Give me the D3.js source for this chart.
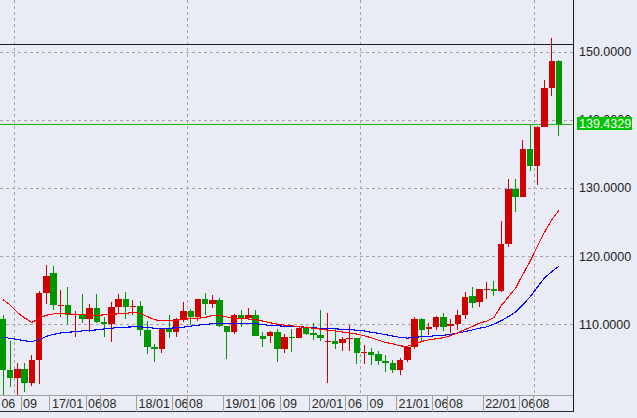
<!DOCTYPE html>
<html><head><meta charset="utf-8">
<script src="https://cdn.jsdelivr.net/npm/d3@7"></script>
<style>
html,body{margin:0;padding:0;background:#E9ECF4;overflow:hidden;}
svg{display:block;}
text{font-family:"Liberation Sans",Arial,sans-serif;font-size:12.5px;}
</style></head><body>
<svg id="chart" width="637" height="418"></svg>
<script>
// ---- data (USD/JPY monthly) ----
const months = [
"2016-06","2016-07","2016-08","2016-09","2016-10","2016-11","2016-12",
"2017-01","2017-02","2017-03","2017-04","2017-05","2017-06","2017-07","2017-08","2017-09","2017-10","2017-11","2017-12",
"2018-01","2018-02","2018-03","2018-04","2018-05","2018-06","2018-07","2018-08","2018-09","2018-10","2018-11","2018-12",
"2019-01","2019-02","2019-03","2019-04","2019-05","2019-06","2019-07","2019-08","2019-09","2019-10","2019-11","2019-12",
"2020-01","2020-02","2020-03","2020-04","2020-05","2020-06","2020-07","2020-08","2020-09","2020-10","2020-11","2020-12",
"2021-01","2021-02","2021-03","2021-04","2021-05","2021-06","2021-07","2021-08","2021-09","2021-10","2021-11","2021-12",
"2022-01","2022-02","2022-03","2022-04","2022-05","2022-06","2022-07","2022-08","2022-09","2022-10","2022-11"];
const open = [
110.7,103.2,102.1,103.4,101.3,104.8,114.5,
117.5,112.75,112.8,111.35,111.5,110.8,112.4,110.3,110.0,112.5,113.7,112.5,
112.7,109.2,106.7,106.3,109.3,108.8,110.7,111.9,111.0,113.7,112.9,113.5,
109.7,108.9,111.4,110.9,111.4,108.3,108.3,108.8,106.3,108.1,108.0,109.5,
108.7,108.4,107.45,107.5,107.2,107.8,107.9,105.8,105.9,105.6,104.6,104.25,
103.2,104.7,106.6,110.7,109.3,109.6,111.1,109.7,110.0,111.3,114.1,113.2,
115.05,115.1,114.9,121.7,129.9,128.7,135.7,133.2,138.95,144.7,148.7];
const high = [
111.4,107.5,104.3,104.3,105.5,114.8,118.7,
118.5,115.0,115.4,111.9,114.4,112.9,114.4,111.1,113.3,114.4,114.7,113.6,
113.4,110.5,107.1,109.5,111.4,110.9,113.2,112.2,113.7,114.5,114.3,113.8,
109.7,111.5,112.1,112.4,112.0,108.8,109.0,109.3,108.5,109.3,109.7,109.7,
110.1,112.1,111.7,109.4,108.1,109.8,107.9,107.0,106.55,106.1,105.5,104.7,
105.0,106.7,111.1,110.9,110.2,111.2,111.6,110.75,112.1,114.75,115.5,115.2,
116.2,116.3,125.1,131.3,131.35,137.0,139.3,139.1,145.8,152.0,148.8];
const low = [
99.0,100.7,99.5,100.1,100.9,101.2,112.9,
112.0,111.1,110.0,108.15,110.2,108.9,110.2,108.1,107.4,111.7,110.8,111.3,
108.3,105.6,104.5,105.7,108.0,108.1,110.3,109.8,110.4,111.3,112.3,109.6,
104.9,108.5,109.6,110.8,108.2,106.7,107.2,104.5,105.7,105.9,107.9,108.4,
107.7,107.5,101.3,106.4,106.0,106.1,104.2,104.2,104.0,104.0,103.0,102.8,
102.5,104.5,106.4,107.4,108.4,109.2,109.0,108.75,109.1,110.8,112.4,112.5,
113.7,114.15,114.7,121.3,126.4,128.6,132.5,130.4,138.9,143.5,137.6];
const close = [
103.2,102.1,103.4,101.3,104.8,114.5,117.0,
112.8,112.8,111.4,111.5,110.8,112.4,110.25,110.0,112.5,113.7,112.5,112.7,
109.2,106.7,106.3,109.3,108.8,110.7,111.9,111.0,113.7,112.9,113.5,109.7,
108.9,111.4,110.9,111.4,108.3,107.8,108.85,106.3,108.1,108.0,109.5,108.6,
108.4,107.9,107.55,107.1,107.8,107.9,105.8,105.9,105.4,104.6,104.3,103.2,
104.7,106.6,110.7,109.2,109.6,111.1,109.6,110.0,111.3,114.0,113.1,115.1,
115.1,114.9,121.7,129.8,128.7,135.7,133.2,138.95,144.7,148.7,139.4329];
const maRed = [
113.6,112.8,111.7,110.9,110.25,110.85,111.3,
111.5,111.55,111.5,111.45,111.4,111.35,111.3,111.35,111.45,111.5,111.6,111.7,
111.6,111.1,110.65,110.5,110.5,110.55,110.7,110.8,110.85,111.0,111.25,111.3,
111.05,110.9,110.85,110.75,110.65,110.45,110.2,110.0,109.85,109.75,109.65,109.5,
109.4,109.25,109.1,109.0,108.85,108.7,108.55,108.3,108.0,107.65,107.3,107.1,
106.8,106.75,107.05,107.45,107.7,107.85,108.0,108.3,108.75,109.2,109.65,110.15,
110.45,110.95,112.7,114.0,115.3,117.3,119.2,121.4,123.5,125.3,126.7];
const maBlue = [
108.1,107.9,107.75,107.55,107.45,107.7,108.2,
108.5,108.7,108.8,108.9,109.0,109.1,109.15,109.3,109.4,109.5,109.55,109.6,
109.6,109.5,109.4,109.4,109.4,109.45,109.55,109.7,109.85,109.95,110.05,110.1,
110.1,110.1,110.1,110.1,110.05,109.95,109.8,109.75,109.7,109.65,109.6,109.55,
109.45,109.4,109.35,109.3,109.25,109.2,109.1,109.0,108.8,108.65,108.45,108.25,
108.05,107.95,108.05,108.15,108.2,108.3,108.35,108.5,108.7,108.9,109.15,109.4,
109.6,110.0,110.5,111.1,111.8,112.85,114.0,115.4,116.8,117.7,118.5];
const yTicks = [110,120,130,140,150];
const xTickMonths = ["2016-06","2016-09","2017-01","2017-06","2017-08","2018-01","2018-06","2018-08",
"2019-01","2019-06","2019-09","2020-01","2020-06","2020-09","2021-01","2021-06","2021-08","2022-01","2022-06","2022-08"];
const xTickLabels = ["06","09","17/01","06","08","18/01","06","08","19/01","06","09","20/01","06","09","21/01","06","08","22/01","06","08"];
const gridMonths = ["2016-08","2018-08","2020-08","2022-08"];
const lastPrice = 139.4329;
const markLevel = 151.1;

// ---- layout ----
const W = 637, H = 418;
const plotR = 573, plotB = 395.7, axisB = 411.5;
const svg = d3.select("#chart");
svg.append("rect").attr("width",W).attr("height",H).attr("fill","#E9ECF4");

const step = 7.22;
const x = d3.scaleBand().domain(months).range([-0.61, -0.61 + step*months.length]).padding(0);
const bw = x.bandwidth();
const cx = m => x(m) + bw/2;
const y = d3.scaleLinear().domain([99.49, 157.59]).range([plotB, 0]);
const px = v => Math.round(v) + 0.5;

const defs = svg.append("defs");
defs.append("clipPath").attr("id","plotclip").append("rect")
  .attr("x",0).attr("y",0).attr("width",plotR).attr("height",plotB);

const grid = svg.append("g").attr("stroke","#A4A4A4").attr("stroke-dasharray","3,3")
  .attr("shape-rendering","crispEdges");
grid.selectAll("line.h").data(yTicks).join("line").attr("class","h")
  .attr("x1",0).attr("x2",plotR).attr("y1",d=>px(y(d))).attr("y2",d=>px(y(d)));
grid.selectAll("line.v").data(gridMonths).join("line").attr("class","v")
  .attr("x1",d=>px(x(d))).attr("x2",d=>px(x(d))).attr("y1",0).attr("y2",plotB);

// reference lines
svg.append("line").attr("x1",0).attr("x2",plotR).attr("y1",px(y(markLevel))).attr("y2",px(y(markLevel)))
  .attr("stroke","#1a1a1a").attr("shape-rendering","crispEdges");
svg.append("line").attr("x1",0).attr("x2",plotR-1).attr("y1",px(y(lastPrice))).attr("y2",px(y(lastPrice)))
  .attr("stroke","#22B022").attr("shape-rendering","crispEdges");

// candles
const data = months.map((m,i)=>({m, o:open[i], h:high[i], l:low[i], c:close[i]}));
const upC = "#D00000", dnC = "#009600";
const cg = svg.append("g").attr("clip-path","url(#plotclip)").attr("shape-rendering","crispEdges");
cg.selectAll("line.wick").data(data).join("line").attr("class","wick")
  .attr("x1",d=>Math.floor(cx(d.m))+0.5).attr("x2",d=>Math.floor(cx(d.m))+0.5)
  .attr("y1",d=>y(d.h)).attr("y2",d=>y(d.l))
  .attr("stroke",d=>d.c>=d.o?upC:dnC);
cg.selectAll("rect.body").data(data).join("rect").attr("class","body")
  .attr("x",d=>Math.round(x(d.m)+0.4))
  .attr("width",d=>Math.round(x(d.m)+bw-0.4)-Math.round(x(d.m)+0.4))
  .attr("y",d=>Math.round(y(Math.max(d.o,d.c))))
  .attr("height",d=>Math.max(1,Math.round(y(Math.min(d.o,d.c)))-Math.round(y(Math.max(d.o,d.c)))))
  .attr("fill",d=>d.c>=d.o?upC:dnC);

// moving averages
const lineGen = arr => d3.line().x((d,i)=>cx(months[i])).y(d=>y(d))(arr);
const mg = svg.append("g").attr("clip-path","url(#plotclip)");
mg.append("path").attr("d",lineGen(maBlue)).attr("fill","none").attr("stroke","#0000FF").attr("stroke-width",1.1).attr("shape-rendering","crispEdges");
mg.append("path").attr("d",lineGen(maRed)).attr("fill","none").attr("stroke","#FF0000").attr("stroke-width",1.1).attr("shape-rendering","crispEdges");

// y axis (right)
const yAxis = d3.axisRight(y).tickValues(yTicks).tickFormat(d3.format(".4f")).tickSize(0).tickPadding(6);
const ya = svg.append("g").attr("transform",`translate(${plotR},0)`).call(yAxis);
ya.select(".domain").remove();
ya.selectAll("text").attr("fill","#222").style("font-size","12.5px").style("font-family","'Liberation Sans',Arial,sans-serif");

// last price box
const ly = y(lastPrice);
svg.append("rect").attr("x",577).attr("y",Math.round(ly-6.5)).attr("width",55).attr("height",13).attr("fill","#00C400");
svg.append("text").attr("x",579).attr("y",ly).attr("dy","0.36em").attr("fill","#FFFFFF")
  .text(d3.format(".4f")(lastPrice));

// x axis band
svg.append("line").attr("x1",0).attr("x2",plotR).attr("y1",395.5).attr("y2",395.5).attr("stroke","#A0A0A0").attr("shape-rendering","crispEdges");
svg.append("line").attr("x1",0).attr("x2",plotR).attr("y1",axisB).attr("y2",axisB).attr("stroke","#2a2a2a").attr("shape-rendering","crispEdges");
svg.append("line").attr("x1",plotR+0.5).attr("x2",plotR+0.5).attr("y1",0).attr("y2",axisB+0.5).attr("stroke","#1a1a1a").attr("shape-rendering","crispEdges");

const labelMap = new Map(xTickMonths.map((m,i)=>[m,xTickLabels[i]]));
const xAxis = d3.axisBottom(x).tickValues(xTickMonths).tickFormat(d=>labelMap.get(d)).tickSize(16).tickPadding(0);
const xa = svg.append("g").attr("transform","translate(0,395.5)").call(xAxis);
xa.select(".domain").remove();
xa.selectAll(".tick line").attr("x1",-bw/2).attr("x2",-bw/2).attr("y1",0).attr("y2",16)
  .attr("stroke","#A0A0A0").attr("shape-rendering","crispEdges");
xa.selectAll(".tick text").attr("x",-bw/2+2).attr("y",12.5).attr("dy",null).attr("text-anchor","start")
  .attr("fill","#2a2a2a").style("font-size","12.5px").style("font-family","'Liberation Sans',Arial,sans-serif");
</script>
</body></html>
